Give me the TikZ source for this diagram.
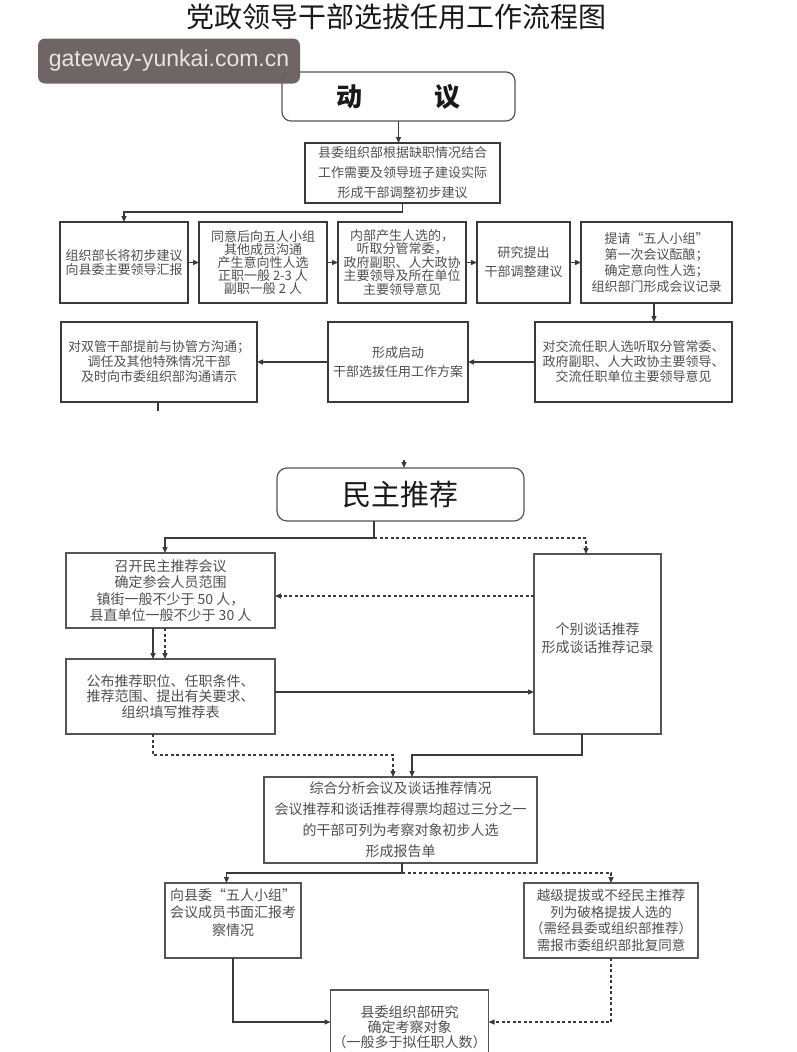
\documentclass[tikz,border=0pt]{standalone}
\usepackage{fontspec}
\setmainfont{Noto Sans CJK SC}
\newfontfamily\wmfont{Liberation Sans}
\usetikzlibrary{arrows.meta,calc}
\definecolor{ln}{HTML}{3A3A3A}
\definecolor{lnl}{HTML}{555555}
\definecolor{tx}{HTML}{505050}
\definecolor{wmc}{HTML}{6B5F5F}
\newcommand\myfs[2]{\fontsize{#1}{#2}\selectfont}
\tikzset{
  box/.style={draw=ln, line width=1.5pt, inner sep=2pt, outer sep=0pt, align=center, text=tx},
  lbox/.style={draw=lnl, line width=1.3pt, inner sep=2pt, outer sep=0pt, align=center, text=tx},
  rbox/.style={draw=lnl, line width=1.2pt, rounded corners=9pt, inner sep=0pt, outer sep=0pt, text=black!90},
  conn/.style={draw=ln, line width=1.2pt},
  arr/.style={conn, -{Triangle[length=6pt,width=5pt]}},
  dsh/.style={dash pattern=on 3pt off 2.5pt},
}
\begin{document}
\begin{tikzpicture}[x=1pt,y=-1pt]
\useasboundingbox (0,0) rectangle (797,1052);
\clip (0,0) rectangle (797,1052);
\fill[white] (0,0) rectangle (797,1052);

% title
\node[font=\myfs{28}{28}, text=black!90] (title) at (396,17) {党政领导干部选拔任用工作流程图};

% 动议
\node[rbox, minimum width=233, minimum height=49, font=\bfseries\myfs{26}{26}] (dy) at (398.5,96.5) {动\hspace{73pt}议};

\node[box, minimum width=195, minimum height=60, font=\myfs{13}{20}] (A) at (402.5,173)
  {县委组织部根据缺职情况结合\\工作需要及领导班子建设实际\\形成干部调整初步建议};

% row 1
\node[box, minimum width=128, minimum height=81, font=\myfs{13}{14.5}] (B1) at (124,262.5)
  {组织部长将初步建议\\向县委主要领导汇报};
\node[box, minimum width=128, minimum height=81, font=\myfs{13}{13}] (B2) at (263,262.5)
  {同意后向五人小组\\其他成员沟通\\产生意向性人选\\正职一般 2-3 人\\副职一般 2 人};
\node[box, minimum width=128, minimum height=81, font=\myfs{13}{13.5}] (B3) at (402,262.5)
  {内部产生人选的，\\听取分管常委，\\政府副职、人大政协\\主要领导及所在单位\\主要领导意见};
\node[box, minimum width=93, minimum height=81, font=\myfs{13}{19}] (B4) at (523.5,262.5)
  {研究提出\\干部调整建议};
\node[box, minimum width=151, minimum height=81, font=\myfs{13}{16}] (B5) at (656.5,262.5)
  {提请“五人小组”\\第一次会议酝酿；\\确定意向性人选；\\组织部门形成会议记录};

% row 2
\node[box, minimum width=197, minimum height=80, font=\myfs{13}{15}] (C1) at (633.5,362)
  {对交流任职人选听取分管常委、\\政府副职、人大政协主要领导、\\交流任职单位主要领导意见};
\node[box, minimum width=140, minimum height=80, font=\myfs{13}{19}] (C2) at (398,362)
  {形成启动\\干部选拔任用工作方案};
\node[box, minimum width=196, minimum height=80, font=\myfs{13}{15}] (C3) at (159,362)
  {对双管干部提前与协管方沟通；\\调任及其他特殊情况干部\\及时向市委组织部沟通请示};

% 民主推荐
\node[rbox, rounded corners=10pt, minimum width=247, minimum height=53, font=\myfs{29}{29}] (mz) at (400.5,494.5) {民主推荐};

\node[lbox, minimum width=209, minimum height=75, font=\myfs{14}{16.5}] (D1) at (170.5,590.5)
  {召开民主推荐会议\\确定参会人员范围\\镇街一般不少于 50 人，\\县直单位一般不少于 30 人};
\node[lbox, minimum width=209, minimum height=75, font=\myfs{14}{15.5}] (D2) at (170.5,696.5)
  {公布推荐职位、任职条件、\\推荐范围、提出有关要求、\\组织填写推荐表};
\node[lbox, minimum width=127, minimum height=180, font=\myfs{14}{18}] (D3) at (597.5,644)
  {个别谈话推荐\\形成谈话推荐记录\\[-6pt]\mbox{}};

\node[lbox, minimum width=273, minimum height=86, font=\myfs{14}{21}] (E) at (400.5,820)
  {综合分析会议及谈话推荐情况\\会议推荐和谈话推荐得票均超过三分之一\\的干部可列为考察对象初步人选\\形成报告单};

\node[lbox, minimum width=136, minimum height=75, font=\myfs{14}{17.5}] (F1) at (233,920.5)
  {向县委“五人小组”\\会议成员书面汇报考\\察情况\\\mbox{}};
\node[lbox, minimum width=174, minimum height=75, font=\myfs{13.5}{16.5}] (F2) at (611,920.5)
  {越级提拔或不经民主推荐\\列为破格提拔人选的\\（需经县委或组织部推荐）\\需报市委组织部批复同意};
\node[lbox, minimum width=157, minimum height=74, font=\myfs{14}{15}] (G) at (409.5,1027)
  {县委组织部研究\\确定考察对象\\（一般多于拟任职人数）};

% connectors top section
\draw[arr] (dy.south) -- (dy.south |- A.north);
\draw[arr] (A.south) -- ++(0,9) -| (B1.north);
\draw[arr] (B1.east) -- (B2.west);
\draw[arr] (B2.east) -- (B3.west);
\draw[arr] (B3.east) -- (B4.west);
\draw[arr] (B4.east) -- (B5.west);
\draw[arr] ([xshift=-2.5pt]B5.south) -- ([xshift=-2.5pt]B5.south |- C1.north);
\draw[arr] (C1.west) -- (C2.east);
\draw[arr] (C2.west) -- (C3.east);
\coordinate (c3end) at (158,411);
\draw[conn] (C3.south -| c3end) -- (c3end);
\coordinate (mztop) at (404,460);
\draw[arr] (mztop) -- (mztop |- mz.north);

% 民主推荐 section
\coordinate (mzb) at (374,538);
\draw[conn] (mz.south -| mzb) -- (mzb);
\draw[arr] (mzb) -| ([xshift=-5.5pt]D1.north);
\draw[arr,dsh] (mzb) -| ([xshift=-11.5pt]D3.north);
\draw[arr] ([xshift=-17.5pt]D1.south) -- ([xshift=-17.5pt]D2.north);
\draw[arr,dsh] ([xshift=-5.5pt]D1.south) -- ([xshift=-5.5pt]D2.north);
\coordinate (p1) at ($(D1.east)+(0,5.5)$);
\draw[arr,dsh] (p1 -| D3.west) -- (p1);
\coordinate (p2) at ($(D2.east)+(0,-4.5)$);
\draw[arr] (p2) -- (p2 -| D3.west);
\coordinate (e1) at ($(E.north)+(-7.5,0)$);
\coordinate (e2) at ($(E.north)+(11.5,0)$);
\draw[arr,dsh] ([xshift=-17.5pt]D2.south) |- ($(e1)+(0,-22)$) -- (e1);
\draw[arr] ([xshift=-15.5pt]D3.south) |- ($(e2)+(0,-22)$) -- (e2);

% bottom
\coordinate (eb) at ($(E.south)+(1.5,10)$);
\draw[conn] (E.south -| eb) -- (eb);
\draw[arr] (eb) -| ([xshift=-6.5pt]F1.north);
\draw[arr,dsh] (eb) -| (F2.north);
\coordinate (g1) at ($(G.west)+(0,-5)$);
\draw[arr] (F1.south) |- (g1);
\draw[arr,dsh] (F2.south) |- (g1 -| G.east);

% watermark
\node[fill=wmc, fill opacity=0.96, text opacity=1, rounded corners=7pt, minimum width=262, minimum height=45, inner sep=0pt,
  text=white!90!black, font=\wmfont\myfs{23}{23}] (wm) at (169,61) {gateway-yunkai.com.cn};
\end{tikzpicture}
\end{document}
